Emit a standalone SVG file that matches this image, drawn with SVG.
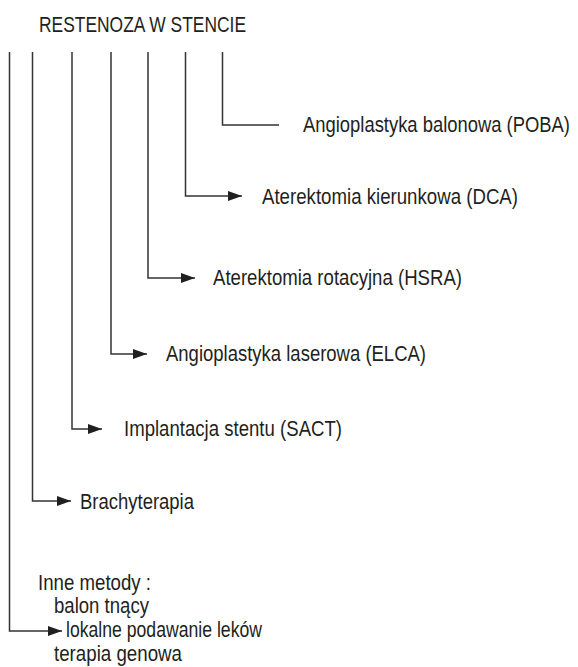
<svg xmlns="http://www.w3.org/2000/svg" width="578" height="667" viewBox="0 0 578 667">
<defs>
<style>
.t{font-family:"Liberation Sans Narrow","Liberation Sans",Arial,sans-serif;font-size:22px;fill:#231f20}
.c{fill:none;stroke:#333;stroke-width:1.5}
</style>
<marker id="ah" markerWidth="14" markerHeight="10" refX="14" refY="5" orient="auto" markerUnits="userSpaceOnUse">
<path d="M0,0 L14,5 L0,10 Z" fill="#231f20"/>
</marker>
</defs>
<rect width="578" height="667" fill="#fff"/>
<g id="title"><text class="t" x="39" y="32" font-size="21.5" textLength="207" lengthAdjust="spacingAndGlyphs">RESTENOZA W STENCIE</text></g>
<g id="connectors">
<path class="c" d="M222.5,52 V125 H279"/>
<path class="c" d="M185.5,52 V196 H242" marker-end="url(#ah)"/>
<path class="c" d="M148,52 V278 H195" marker-end="url(#ah)"/>
<path class="c" d="M111,52 V354 H147" marker-end="url(#ah)"/>
<path class="c" d="M72,52 V429 H102" marker-end="url(#ah)"/>
<path class="c" d="M32.5,52 V501 H71" marker-end="url(#ah)"/>
<path class="c" d="M9.5,52 V631 H62" marker-end="url(#ah)"/>
</g>
<g id="poba"><text class="t" x="303" y="132" textLength="267" lengthAdjust="spacingAndGlyphs">Angioplastyka balonowa (POBA)</text></g>
<g id="dca"><text class="t" x="262" y="204" textLength="256" lengthAdjust="spacingAndGlyphs">Aterektomia kierunkowa (DCA)</text></g>
<g id="hsra"><text class="t" x="213" y="285" textLength="249" lengthAdjust="spacingAndGlyphs">Aterektomia rotacyjna (HSRA)</text></g>
<g id="elca"><text class="t" x="166" y="361" textLength="260" lengthAdjust="spacingAndGlyphs">Angioplastyka laserowa (ELCA)</text></g>
<g id="sact"><text class="t" x="124" y="436" textLength="218" lengthAdjust="spacingAndGlyphs">Implantacja stentu (SACT)</text></g>
<g id="brachy"><text class="t" x="80" y="509" textLength="114" lengthAdjust="spacingAndGlyphs">Brachyterapia</text></g>
<g id="inne">
<text class="t" x="38" y="590" textLength="113" lengthAdjust="spacingAndGlyphs">Inne metody :</text>
<text class="t" x="54" y="613" textLength="95" lengthAdjust="spacingAndGlyphs">balon tnący</text>
<text class="t" x="66" y="637" textLength="196" lengthAdjust="spacingAndGlyphs">lokalne podawanie leków</text>
<text class="t" x="54" y="661" textLength="128" lengthAdjust="spacingAndGlyphs">terapia genowa</text>
</g>
</svg>
